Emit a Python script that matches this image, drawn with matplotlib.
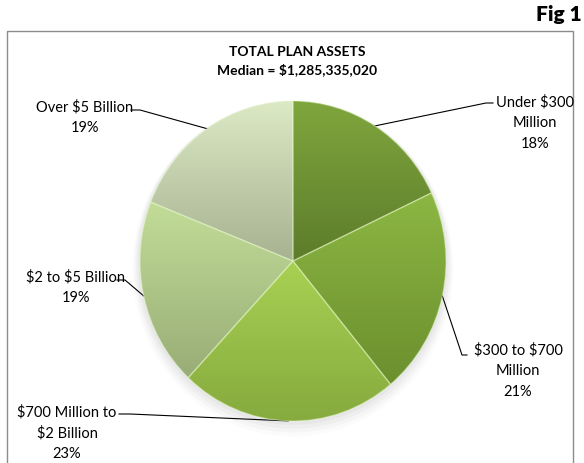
import numpy as np
import matplotlib
matplotlib.use("Agg")
from matplotlib import pyplot as plt
from matplotlib.colors import to_rgb, LinearSegmentedColormap
from matplotlib.patches import Rectangle

# Plan asset size buckets, clockwise from 12 o'clock
categories = ["Under $300\nMillion", "$300 to $700\nMillion", "$700 Million to\n$2 Billion",
              "$2 to $5 Billion", "Over $5 Billion"]
shares = [18, 21, 23, 19, 19]
title_lines = ["TOTAL PLAN ASSETS", "Median = $1,285,335,020"]
fig_tag = "Fig 1"

# top / bottom colours of each slice's vertical gradient
top_colors = ["#7fa63d", "#8cb743", "#a8d153", "#c2dc98", "#dce9c5"]
bottom_colors = ["#5d7c2b", "#6b8f2e", "#86aa3e", "#98ad76", "#a6b290"]

plt.rcParams["font.family"] = ["Lato", "DejaVu Sans"]
plt.rcParams["text.parse_math"] = False

W, H = 584, 464
fig = plt.figure(figsize=(W / 100, H / 100), dpi=100)

# overlay axes in pixel coordinates for the frame, text and leader lines
ax = fig.add_axes([0, 0, 1, 1], zorder=1)
ax.set_xlim(0, W)
ax.set_ylim(H, 0)
ax.axis("off")
ax.patch.set_alpha(0)

# pie axes: centre (293, 262), radii 153 x 160 px
cx, cy, rx, ry = 293, 262, 153, 160
pax = fig.add_axes([(cx - rx) / W, (H - cy - ry) / H, 2 * rx / W, 2 * ry / H], zorder=2)
pax.patch.set_alpha(0)

wedges, _ = pax.pie(shares, startangle=90, counterclock=False, radius=1,
                    wedgeprops=dict(linewidth=1.0, edgecolor=(0.93, 1, 0.8, 0.35)))
pax.set_aspect("auto")
pax.axis("off")

# soft shadow under the pie
t = np.linspace(0, 2 * np.pi, 200)
for k, a in enumerate([0.05, 0.04, 0.03, 0.02]):
    s = 1.0 + 0.012 * (k + 1)
    pax.fill(s * np.cos(t), s * np.sin(t) - 0.012 * (k + 1), color="#555555", alpha=a,
             zorder=0, lw=0, clip_on=False)

for w, c0, c1 in zip(wedges, top_colors, bottom_colors):
    th = np.radians(np.linspace(w.theta1, w.theta2, 100))
    ys = np.concatenate([np.sin(th), [0]])
    cmap = LinearSegmentedColormap.from_list("g", [to_rgb(c1), to_rgb(c0)])
    grad = np.linspace(0, 1, 256).reshape(-1, 1)
    im = pax.imshow(grad, cmap=cmap, origin="lower", aspect="auto",
                    extent=(-1, 1, ys.min(), ys.max()), zorder=1)
    im.set_clip_path(w)
    w.set_facecolor("none")
    w.set_zorder(2)
pax.set_xlim(-1, 1)
pax.set_ylim(-1, 1)


def to_px(theta_deg):
    t = np.radians(theta_deg)
    return cx + rx * np.cos(t), cy - ry * np.sin(t)


# frame around the chart
ax.add_patch(Rectangle((7, 32), 566, 440, fill=False, edgecolor="#8c8c8c", lw=1.0))
ax.text(582, 14, fig_tag, ha="right", va="center", fontsize=15, fontweight="heavy")
ax.text(297, 52, title_lines[0], ha="center", va="center", fontsize=10, fontweight="bold")
ax.text(297, 70, title_lines[1], ha="center", va="center", fontsize=10, fontweight="bold")

# label anchor (x, y of first line centre), leader start and elbow
label_layout = [
    dict(pos=(535, 103), start=(493, 104), elbow=(486, 104)),
    dict(pos=(518, 351), start=(467, 356), elbow=(462, 356)),
    dict(pos=(67, 413), start=(119, 415), elbow=(130, 415)),
    dict(pos=(76, 278), start=(117, 281), elbow=(125, 281)),
    dict(pos=(85, 108), start=(131, 111), elbow=(140, 111)),
]

for w, cat, val, lay in zip(wedges, categories, shares, label_layout):
    mid = (w.theta1 + w.theta2) / 2
    ex, ey = to_px(mid)
    sx, sy = lay["start"]
    bx, by = lay["elbow"]
    ax.plot([sx, bx, ex], [sy, by, ey], color="black", lw=0.8)
    tx, ty = lay["pos"]
    ax.text(tx, ty - 8, f"{cat}\n{val}%", ha="center", va="top", fontsize=10.5,
            linespacing=1.6)

fig.savefig("out.png", dpi=100)
